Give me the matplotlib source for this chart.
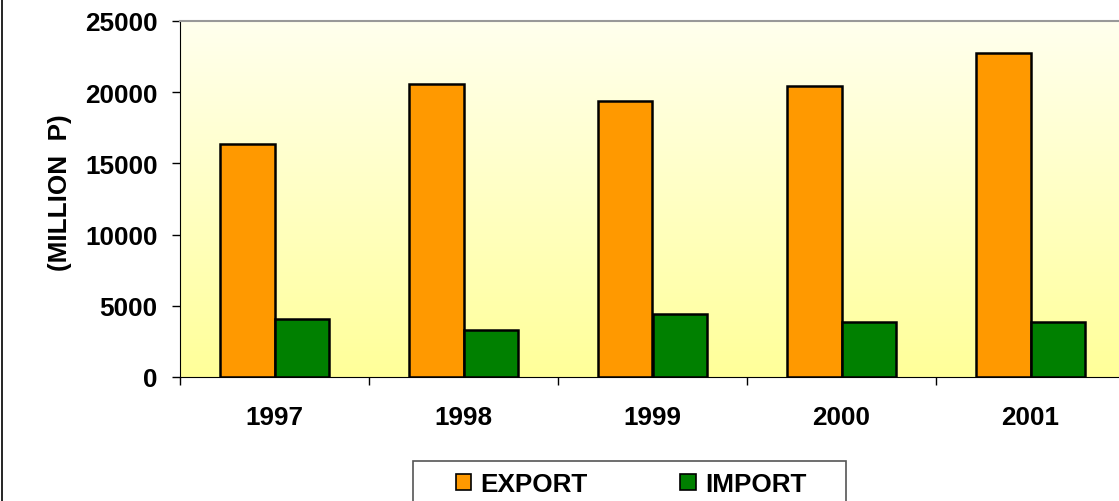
import matplotlib
matplotlib.use("Agg")
import matplotlib.pyplot as plt
import numpy as np
from matplotlib.patches import Rectangle
from matplotlib.lines import Line2D

years = ["1997", "1998", "1999", "2000", "2001"]
export_vals = [16350, 20550, 19380, 20430, 22730]
import_vals = [4070, 3330, 4450, 3880, 3870]
yticks = [0, 5000, 10000, 15000, 20000, 25000]

W, H = 1119, 502
fig = plt.figure(figsize=(W / 100, H / 100), dpi=100)
plt.rcParams['font.family'] = ['Liberation Sans', 'DejaVu Sans']
FS = 18.8

ax = fig.add_axes([180 / W, (H - 378) / H, (1125 - 180) / W, (378 - 22) / H])

# gradient background
grad = np.linspace(0, 1, 256).reshape(-1, 1)
top = np.array([255, 255, 238]) / 255
bot = np.array([255, 255, 153]) / 255
img = top[None, None, :] * (1 - grad[:, :, None]) + bot[None, None, :] * grad[:, :, None]
ax.imshow(img, extent=[-0.5, 4.5, 0, 25000], aspect='auto', zorder=0, origin='upper')

x = np.arange(len(years))
bw = 0.289
ax.bar(x - bw / 2, export_vals, bw, color='#FF9900', edgecolor='black', linewidth=1.8, zorder=2, label='EXPORT')
ax.bar(x + bw / 2, import_vals, bw, color='#008000', edgecolor='black', linewidth=1.8, zorder=2, label='IMPORT')

ax.set_xlim(-0.5, 4.5)
ax.set_ylim(0, 25000)
ax.set_yticks(yticks)
ax.set_yticklabels([str(v) for v in yticks], fontsize=FS, fontweight='bold')
ax.tick_params(axis='y', direction='out', length=6, width=1, pad=10)

ax.set_xticks(np.arange(-0.5, 5, 1))
ax.set_xticklabels([])
ax.tick_params(axis='x', which='major', direction='out', length=6, width=1)
ax.set_xticks(x, minor=True)
ax.set_xticklabels(years, minor=True, fontsize=FS, fontweight='bold')
ax.tick_params(axis='x', which='minor', length=0, pad=20)

ax.spines['left'].set_color('black')
ax.spines['bottom'].set_color('black')
ax.spines['top'].set_color('#999999')
ax.spines['top'].set_linewidth(1.5)
ax.spines['right'].set_visible(False)

fig.text(60 / W, 1 - 193 / H, "(MILLION  P)", rotation=90, ha='center', va='center',
         fontsize=FS, fontweight='bold')

# outer chart border (left edge)
fig.add_artist(Line2D([2 / W, 2 / W], [0, 1], color='black', linewidth=1.2, transform=fig.transFigure))

# legend box
fig.add_artist(Rectangle((413 / W, -0.05), (846 - 413) / W, (H - 462) / H + 0.05,
                         transform=fig.transFigure, facecolor='white', edgecolor='#555555', linewidth=1.2))
handles = [Rectangle((0, 0), 1, 1, facecolor='#FF9900', edgecolor='black', linewidth=1.2),
           Rectangle((0, 0), 1, 1, facecolor='#008000', edgecolor='black', linewidth=1.2)]
leg = fig.legend(handles, ['EXPORT', 'IMPORT'], loc='center', bbox_to_anchor=(631 / W, 1 - 485 / H),
                 ncol=2, frameon=False, prop={'size': FS, 'weight': 'bold'},
                 handlelength=0.6, handleheight=0.6, handletextpad=0.35, columnspacing=3.55)

fig.savefig("out.png", dpi=100)
